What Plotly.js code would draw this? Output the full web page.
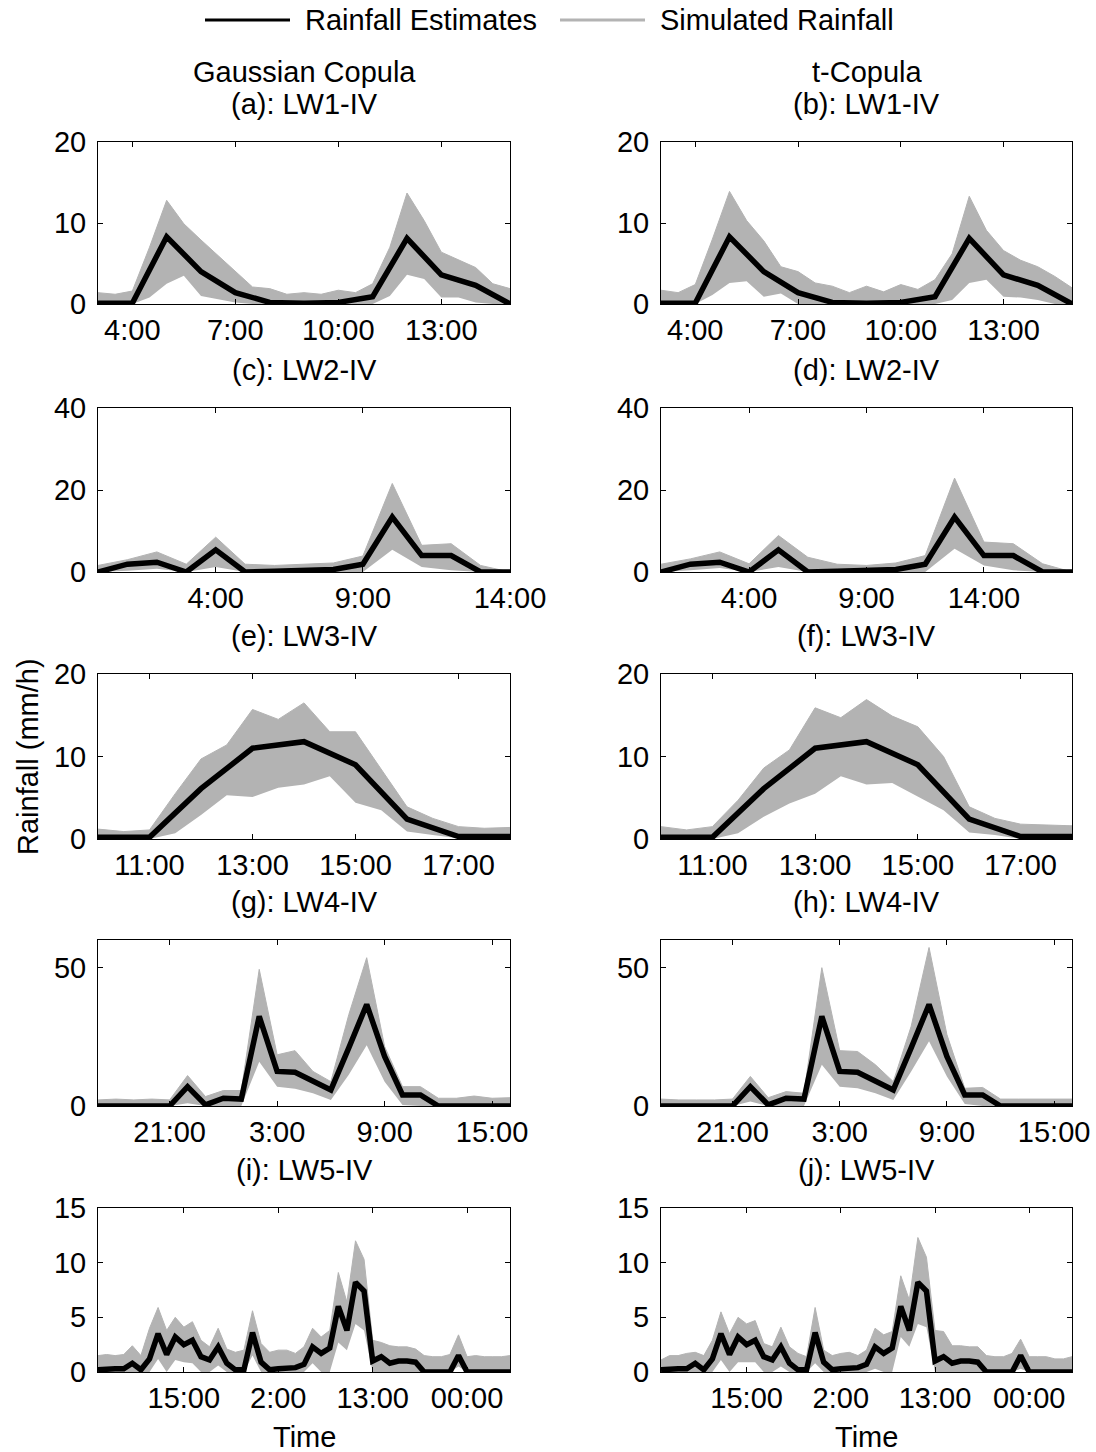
<!DOCTYPE html>
<html>
<head>
<meta charset="utf-8">
<script src="https://cdn.plot.ly/plotly-3.0.1.min.js"></script>
<style>html,body{margin:0;padding:0;background:#fff;}#chart{width:1096px;height:1452px;}</style>
</head>
<body>
<div id="chart"></div>
<script>
// ---------- DATA ----------
// LW1-IV : hourly estimates 3:00-15:00, simulated envelope every 30 min
const hoursLW1 = [3,4,5,6,7,8,9,10,11,12,13,14,15];
const estLW1 = [0.1,0.1,8.3,4.0,1.4,0.2,0.1,0.2,0.9,8.1,3.6,2.3,0];
const simHoursLW1 = [3,3.5,4,4.5,5,5.5,6,6.5,7,7.5,8,8.5,9,9.5,10,10.5,11,11.5,12,12.5,13,13.5,14,14.5,15];
const upperGaussLW1 = [1.4,1.2,1.6,7.0,12.8,9.9,7.9,6.0,4.0,2.1,1.9,1.2,1.4,1.2,1.7,1.4,2.5,7.0,13.7,10.3,6.4,5.4,4.5,2.5,1.9];
const lowerGaussLW1 = [0,0,0,0.8,2.5,3.5,1.0,0.6,0.2,0,0,0,0,0,0,0,0,1.0,3.6,3.1,0.8,0.8,0.2,0,0];
const upperTLW1 = [1.7,1.4,2.4,8.0,13.9,10.3,7.8,4.6,4.0,2.6,2.2,1.4,2.2,1.5,2.4,1.8,3.0,6.2,13.3,9.1,6.6,5.4,4.6,3.4,2.0];
const lowerTLW1 = [0,0,0,1.1,2.6,2.8,0.9,1.3,0,0,0,0,0,0,0,0,0,0.5,2.6,3.0,0.9,0.8,0.5,0,0];
const tickValsLW1 = [4,7,10,13];
const tickTextLW1 = ['4:00','7:00','10:00','13:00'];

// LW2-IV : 15 steps; the t-Copula panel uses a shifted time axis (as drawn)
const hoursLW2Gauss = [0,1,2,3,4,5,6,7,8,9,10,11,12,13,14];
const hoursLW2T = [0.25,1.5,2.75,4,5.25,6.5,7.75,9,10.25,11.5,12.75,14,15.25,16.5,17.75];
const estLW2 = [0,1.9,2.4,0,5.4,0,0.2,0.3,0.6,1.9,13.4,4.0,4.0,0,0];
const upperGaussLW2 = [1.6,3.0,4.9,1.9,8.5,1.9,1.6,1.9,2.2,3.9,21.6,6.5,6.9,1.6,0];
const lowerGaussLW2 = [0,0.3,0.8,0,1.2,0,0,0,0,0,5.4,1.2,0.4,0,0];
const upperTLW2 = [1.9,3.2,4.9,2.0,8.9,3.6,1.9,1.6,2.2,4.0,22.9,7.3,6.9,2.0,0];
const lowerTLW2 = [0,0.4,1.0,0,1.2,0,0,0,0,0,5.7,1.6,0.4,0,0];
const tickValsLW2 = [4,9,14];
const tickTextLW2 = ['4:00','9:00','14:00'];

// LW3-IV : hourly estimates 10:00-18:00, envelope every 30 min
const hoursLW3 = [10,11,12,13,14,15,16,17,18];
const estLW3 = [0.2,0.2,6.1,11.0,11.8,9.0,2.4,0.3,0.3];
const simHoursLW3 = [10,10.5,11,11.5,12,12.5,13,13.5,14,14.5,15,15.5,16,16.5,17,17.5,18];
const upperGaussLW3 = [1.2,0.9,1.1,5.5,9.7,11.4,15.7,14.5,16.5,13.0,13.0,8.4,3.9,2.5,1.5,1.3,1.4];
const lowerGaussLW3 = [0,0,0,0.7,2.9,5.3,5.1,6.2,6.6,7.6,4.4,3.5,0.9,0.5,0.1,0,0];
const upperTLW3 = [1.5,1.1,1.5,4.7,8.6,10.8,15.9,14.7,16.9,14.9,13.6,10.0,3.9,2.5,1.8,1.7,1.6];
const lowerTLW3 = [0,0,0,0.7,2.7,4.3,5.5,7.6,6.6,6.8,5.1,3.5,0.8,0.5,0,0,0];
const tickValsLW3 = [11,13,15,17];
const tickTextLW3 = ['11:00','13:00','15:00','17:00'];

// LW4-IV : hourly 17:00 (day 1) - 16:00 (day 2)
const hoursLW4 = [17,18,19,20,21,22,23,24,25,26,27,28,29,30,31,32,33,34,35,36,37,38,39,40];
const estLW4 = [0,0,0,0,0,7.0,0.4,2.8,2.5,32.4,12.5,12.2,9.2,5.8,21.0,36.7,17.9,4.0,4.0,0,0,0,0,0];
const upperGaussLW4 = [2.2,2.5,2.2,2.5,2.2,11.0,3.4,5.6,5.6,49.4,18.5,20.0,12.5,8.8,33.0,53.6,21.5,7.0,7.0,2.8,2.8,3.6,2.8,3.0];
const lowerGaussLW4 = [0,0,0,0,0,1.0,0,0,0,16.0,7.0,6.2,4.6,2.2,11.3,22.0,8.8,0.4,0,0,0,0,0,0];
const upperTLW4 = [2.5,2.2,2.2,2.2,2.5,10.7,3.0,5.2,4.6,50.0,20.0,19.7,14.9,8.8,28.8,57.3,25.8,6.4,6.7,2.5,2.5,2.5,2.5,2.5];
const lowerTLW4 = [0,0,0,0,0,1.6,0,0,0,14.9,7.0,6.4,4.6,2.2,12.5,23.4,10.7,0.7,0,0,0,0,0,0];
const tickValsLW4 = [21,27,33,39];
const tickTextLW4 = ['21:00','3:00','9:00','15:00'];

// LW5-IV : hourly, 5:00 (day 1) - 5:00 (day 3)
const hoursLW5 = [5,6,7,8,9,10,11,12,13,14,15,16,17,18,19,20,21,22,23,24,25,26,27,28,29,30,31,32,33,34,35,36,37,38,39,40,41,42,43,44,45,46,47,48,49,50,51,52,53];
const estLW5 = [0.2,0.3,0.3,0.3,0.8,0.2,1.2,3.5,1.6,3.2,2.5,2.9,1.4,1.1,2.3,0.8,0.2,0.2,3.6,0.9,0.2,0.3,0.4,0.4,0.7,2.3,1.7,2.2,6.0,3.8,8.2,7.4,1.0,1.4,0.8,1.0,1.0,0.9,0,0,0,0,1.5,0,0,0,0,0,0];
const upperGaussLW5 = [1.5,1.6,1.5,1.6,2.4,1.5,4.0,5.9,3.8,5.0,4.1,4.6,2.9,2.3,4.0,2.1,1.8,2.0,5.6,2.6,1.8,2.0,2.0,1.7,2.3,4.0,3.2,3.8,9.1,6.4,12.0,10.3,2.9,2.7,2.4,2.3,2.3,2.1,1.5,1.4,1.4,1.6,3.4,1.4,1.5,1.4,1.4,1.4,1.5];
const lowerGaussLW5 = [0,0,0,0,0,0,0,1.2,0,1.1,0.9,0.8,0,0,0.6,0,0,0,1.5,0,0,0,0,0,0,0.8,0,0,2.7,2.0,4.4,3.8,0,0,0,0,0,0,0,0,0,0,0.5,0,0,0,0,0,0];
const upperTLW5 = [1.1,1.5,1.5,1.7,1.8,1.5,2.9,5.5,3.5,5.0,4.4,4.7,2.6,2.3,4.1,2.3,1.7,1.4,5.9,2.0,1.5,1.7,1.8,1.5,2.0,4.0,3.4,3.7,8.8,6.6,12.3,10.5,3.8,3.7,2.4,2.4,2.3,2.3,1.5,1.4,1.4,1.7,3.0,1.4,1.4,1.4,1.2,1.2,1.4];
const lowerTLW5 = [0,0,0,0,0,0,0,1.1,0,0.9,0.9,0.9,0,0,0.5,0,0,0,0.8,0,0,0,0,0,0,0.3,0,0,3.2,2.3,4.4,4.1,0,0,0,0,0,0,0,0,0,0,0.3,0,0,0,0,0,0];
const tickValsLW5 = [15,26,37,48];
const tickTextLW5 = ['15:00','2:00','13:00','00:00'];

const yRanges = [[0,20],[0,40],[0,20],[0,60],[0,15]];
const yTicks = [[0,10,20],[0,20,40],[0,10,20],[0,50],[0,5,10,15]];
const panelTitles = ['(a): LW1-IV','(b): LW1-IV','(c): LW2-IV','(d): LW2-IV','(e): LW3-IV','(f): LW3-IV','(g): LW4-IV','(h): LW4-IV','(i): LW5-IV','(j): LW5-IV'];
const columnTitles = ['Gaussian Copula','t-Copula'];
const legendLabels = ['Rainfall Estimates','Simulated Rainfall'];

// ---------- PANEL SETUP ----------
const panels = [
  {t: hoursLW1, est: estLW1, ts: simHoursLW1, up: upperGaussLW1, lo: lowerGaussLW1, tv: tickValsLW1, tt: tickTextLW1},
  {t: hoursLW1, est: estLW1, ts: simHoursLW1, up: upperTLW1, lo: lowerTLW1, tv: tickValsLW1, tt: tickTextLW1},
  {t: hoursLW2Gauss, est: estLW2, ts: hoursLW2Gauss, up: upperGaussLW2, lo: lowerGaussLW2, tv: tickValsLW2, tt: tickTextLW2},
  {t: hoursLW2T, est: estLW2, ts: hoursLW2T, up: upperTLW2, lo: lowerTLW2, tv: tickValsLW2, tt: tickTextLW2},
  {t: hoursLW3, est: estLW3, ts: simHoursLW3, up: upperGaussLW3, lo: lowerGaussLW3, tv: tickValsLW3, tt: tickTextLW3},
  {t: hoursLW3, est: estLW3, ts: simHoursLW3, up: upperTLW3, lo: lowerTLW3, tv: tickValsLW3, tt: tickTextLW3},
  {t: hoursLW4, est: estLW4, ts: hoursLW4, up: upperGaussLW4, lo: lowerGaussLW4, tv: tickValsLW4, tt: tickTextLW4},
  {t: hoursLW4, est: estLW4, ts: hoursLW4, up: upperTLW4, lo: lowerTLW4, tv: tickValsLW4, tt: tickTextLW4},
  {t: hoursLW5, est: estLW5, ts: hoursLW5, up: upperGaussLW5, lo: lowerGaussLW5, tv: tickValsLW5, tt: tickTextLW5},
  {t: hoursLW5, est: estLW5, ts: hoursLW5, up: upperTLW5, lo: lowerTLW5, tv: tickValsLW5, tt: tickTextLW5}
];

const W = 1096, H = 1452;
const colPx = [[98,510],[661,1072]];
const rowPx = [[142,304],[408,572],[674,839],[940,1106],[1208,1372]];
const FONT = 'Liberation Sans, Arial, Helvetica, sans-serif';
const FS = 29;
const GREY = '#b3b3b3';

const traces = [];
const layout = {
  width: W, height: H,
  margin: {l:0, r:0, t:0, b:0},
  paper_bgcolor: '#fff', plot_bgcolor: '#fff',
  showlegend: false,
  font: {family: FONT, size: FS, color: '#000'},
  annotations: [], shapes: []
};

panels.forEach((p, i) => {
  const row = Math.floor(i / 2), col = i % 2;
  const n = i + 1;
  const xa = n === 1 ? 'x' : 'x' + n, ya = n === 1 ? 'y' : 'y' + n;
  const xk = n === 1 ? 'xaxis' : 'xaxis' + n, yk = n === 1 ? 'yaxis' : 'yaxis' + n;
  traces.push({x: p.ts, y: p.lo, xaxis: xa, yaxis: ya, type: 'scatter', mode: 'lines',
    line: {width: 0, color: GREY}, hoverinfo: 'skip'});
  traces.push({x: p.ts, y: p.up, xaxis: xa, yaxis: ya, type: 'scatter', mode: 'lines',
    fill: 'tonexty', fillcolor: GREY, line: {width: 1, color: GREY}, name: legendLabels[1]});
  traces.push({x: p.t, y: p.est, xaxis: xa, yaxis: ya, type: 'scatter', mode: 'lines',
    line: {width: 5.5, color: '#000'}, name: legendLabels[0]});
  const common = {showline: true, mirror: 'ticks', linecolor: '#000', linewidth: 1,
    ticks: 'inside', ticklen: 5, tickwidth: 1, tickcolor: '#000',
    showgrid: false, zeroline: false, tickfont: {family: FONT, size: FS, color: '#000'}};
  layout[xk] = Object.assign({}, common, {
    domain: [colPx[col][0] / W, colPx[col][1] / W], anchor: ya,
    range: [p.t[0], p.t[p.t.length - 1]], tickmode: 'array', tickvals: p.tv, ticktext: p.tt});
  layout[yk] = Object.assign({}, common, {
    domain: [1 - rowPx[row][1] / H, 1 - rowPx[row][0] / H], anchor: xa,
    range: yRanges[row], tickmode: 'array', tickvals: yTicks[row],
    ticksuffix: ' ', ticklabelstandoff: 5});
  layout.annotations.push({text: panelTitles[i], xref: 'paper', yref: 'paper',
    x: (colPx[col][0] + colPx[col][1]) / 2 / W, y: 1 - (rowPx[row][0] - 38) / H,
    xanchor: 'center', yanchor: 'middle', showarrow: false, font: {size: FS}});
});

// column headers and x titles
columnTitles.forEach((t, c) => {
  layout.annotations.push({text: t, xref: 'paper', yref: 'paper',
    x: (colPx[c][0] + colPx[c][1]) / 2 / W, y: 1 - 72 / H,
    xanchor: 'center', yanchor: 'middle', showarrow: false, font: {size: FS}});
  layout.annotations.push({text: 'Time', xref: 'paper', yref: 'paper',
    x: (colPx[c][0] + colPx[c][1]) / 2 / W, y: 1 - 1437 / H,
    xanchor: 'center', yanchor: 'middle', showarrow: false, font: {size: FS}});
});
// y-axis title
layout.annotations.push({text: 'Rainfall (mm/h)', xref: 'paper', yref: 'paper',
  x: 28 / W, y: 1 - 757 / H, textangle: -90, xanchor: 'center', yanchor: 'middle',
  showarrow: false, font: {size: FS}});
// legend
const legendItems = [{x0: 205, x1: 290, tx: 303, color: '#000'}, {x0: 560, x1: 645, tx: 658, color: GREY}];
legendItems.forEach((L, k) => {
  layout.shapes.push({type: 'line', xref: 'paper', yref: 'paper',
    x0: L.x0 / W, x1: L.x1 / W, y0: 1 - 20 / H, y1: 1 - 20 / H,
    line: {color: L.color, width: 3}});
  layout.annotations.push({text: legendLabels[k], xref: 'paper', yref: 'paper',
    x: L.tx / W, y: 1 - 20 / H, xanchor: 'left', yanchor: 'middle', showarrow: false, font: {size: FS}});
});

Plotly.newPlot('chart', traces, layout, {staticPlot: true, displayModeBar: false});
</script>
</body>
</html>
